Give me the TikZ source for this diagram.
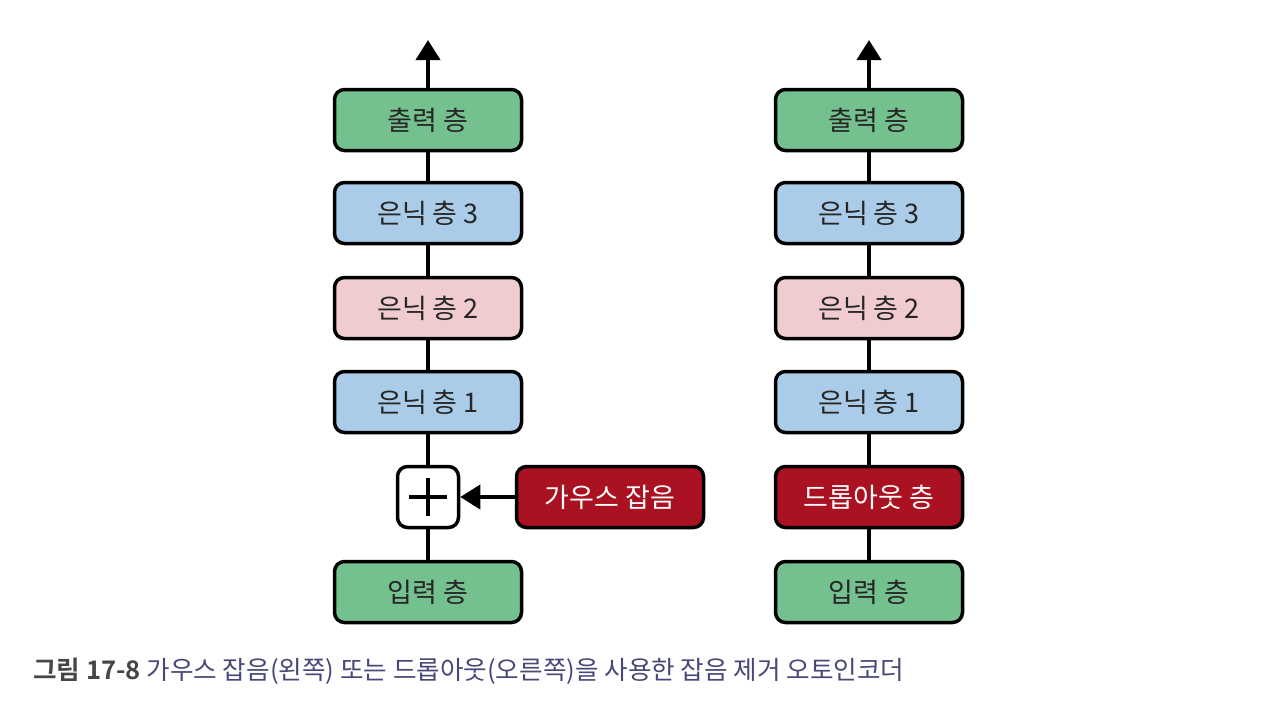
\documentclass[tikz,border=0pt]{standalone}
\usepackage{fontspec}
\setmainfont{Noto Sans CJK KR}
\newfontfamily\capbold{Noto Sans CJK KR Bold}
\usetikzlibrary{arrows.meta}
\definecolor{lgreen}{RGB}{116,192,142}
\definecolor{lblue}{RGB}{170,204,232}
\definecolor{lpink}{RGB}{240,204,208}
\definecolor{lred}{RGB}{170,18,34}
\definecolor{capgray}{RGB}{70,70,70}
\definecolor{capblue}{RGB}{72,72,120}
\tikzset{
  x=1pt,y=-1pt,
  layer/.style={draw=black,line width=3.5pt,rounded corners=10pt,minimum width=187pt,minimum height=61pt,inner sep=0pt,font=\fontsize{27}{30}\selectfont,text=black!85},
  greenl/.style={layer,fill=lgreen},
  bluel/.style={layer,fill=lblue},
  pinkl/.style={layer,fill=lpink},
  redl/.style={layer,fill=lred,text=white},
  plusbox/.style={draw=black,line width=3.5pt,rounded corners=10pt,minimum width=61pt,minimum height=61pt,inner sep=0pt,fill=white},
  conn/.style={line width=4pt},
  arr/.style={line width=4pt,-{Triangle[length=20pt,width=24pt]}},
}
\begin{document}
\begin{tikzpicture}
\useasboundingbox (0,0) rectangle (1280,713);
% left column
\node[greenl] (lout) at (428,120) {출력 층};
\node[bluel] (lh3) at (428,213) {은닉 층 3};
\node[pinkl] (lh2) at (428,308) {은닉 층 2};
\node[bluel] (lh1) at (428,402) {은닉 층 1};
\node[plusbox] (plus) at (428,497) {};
\node[greenl] (lin) at (428,592) {입력 층};
\node[redl] (noise) at (610,497) {가우스 잡음};
\coordinate (ltop) at (428,40);
\draw[line width=3.5pt] ([xshift=-19pt]plus.center) -- ([xshift=19pt]plus.center);
\draw[line width=3.5pt] ([yshift=-19pt]plus.center) -- ([yshift=19pt]plus.center);
\draw[conn] (lin) -- (plus);
\draw[conn] (plus) -- (lh1);
\draw[conn] (lh1) -- (lh2);
\draw[conn] (lh2) -- (lh3);
\draw[conn] (lh3) -- (lout);
\draw[arr] (lout.north) -- (ltop);
\draw[arr] (noise.west) -- (plus.east);
% right column
\node[greenl] (rout) at (869,120) {출력 층};
\node[bluel] (rh3) at (869,213) {은닉 층 3};
\node[pinkl] (rh2) at (869,308) {은닉 층 2};
\node[bluel] (rh1) at (869,402) {은닉 층 1};
\node[redl] (drop) at (869,497) {드롭아웃 층};
\node[greenl] (rin) at (869,592) {입력 층};
\coordinate (rtop) at (869,40);
\draw[conn] (rin) -- (drop);
\draw[conn] (drop) -- (rh1);
\draw[conn] (rh1) -- (rh2);
\draw[conn] (rh2) -- (rh3);
\draw[conn] (rh3) -- (rout);
\draw[arr] (rout.north) -- (rtop);
% caption
\node[anchor=west,inner sep=0pt,font=\fontsize{25.6}{28}\selectfont] (cap) at (33,671) {{\capbold\color{capgray}그림 17-8} \color{capblue}가우스 잡음(왼쪽) 또는 드롭아웃(오른쪽)을 사용한 잡음 제거 오토인코더};
\end{tikzpicture}
\end{document}
